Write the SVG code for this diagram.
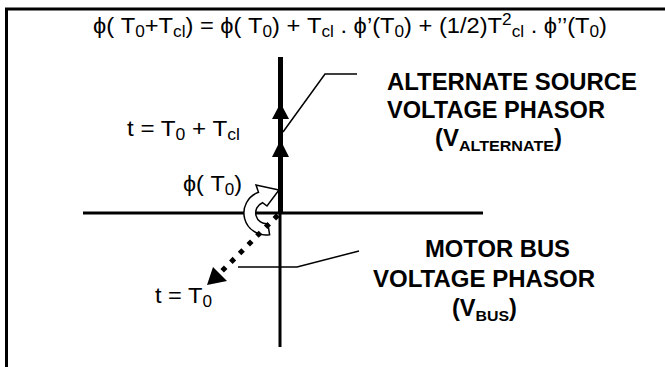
<svg xmlns="http://www.w3.org/2000/svg" width="665" height="367" viewBox="0 0 665 367">
<style>
text{font-family:"Liberation Sans","DejaVu Sans",Arial,sans-serif;fill:#000}
.reg{font-size:22px}
.lbl{font-size:22px}
.bold{font-size:23px;font-weight:bold}
.sub{font-size:16px}
.bsub{font-size:15.5px;font-weight:bold}
.thin{stroke:#000;stroke-width:1.5;fill:none}
</style>
<rect width="665" height="367" fill="#fff"/>
<g id="frame" stroke="#000" stroke-width="3" fill="none">
<path d="M6.5,367 V9 H665"/>
</g>
<g id="axes" stroke="#000" stroke-width="3">
<line x1="83" y1="213" x2="483" y2="213"/>
<line x1="280" y1="213" x2="280" y2="347"/>
</g>
<g id="alternate-phasor">
<line x1="280.5" y1="57" x2="280.5" y2="213" stroke="#000" stroke-width="5"/>
<polygon points="272,119 280.5,103 289,119" fill="#000"/>
<polygon points="272,157 280.5,140 289,157" fill="#000"/>
</g>
<g id="connectors">
<polyline class="thin" points="283,132 325,74 357,74"/>
<polyline class="thin" points="238,267 297,267 359,251"/>
</g>
<g id="rotation-arrow">
<path d="M269.6,234.7 A22,22 0 0 1 258.5,192.3 L256,185 L279,190 L267,206 L262.5,202.7 A11,11 0 0 0 267.9,223.8 Z" fill="#fff" stroke="#000" stroke-width="1.5" stroke-linejoin="miter"/>
</g>
<g id="bus-phasor">
<line x1="280" y1="213" x2="222" y2="271" stroke="#000" stroke-width="5" stroke-dasharray="5 7.3" stroke-dashoffset="-3"/>
<polygon points="207,285 213,267 227,281" fill="#000"/>
</g>
<g id="formula">
<text class="reg" x="93" y="33" textLength="514" lengthAdjust="spacingAndGlyphs">ϕ( T<tspan class="sub" dy="4">0</tspan><tspan dy="-4">+T</tspan><tspan class="sub" dy="4">cl</tspan><tspan dy="-4">) = ϕ( T</tspan><tspan class="sub" dy="4">0</tspan><tspan dy="-4">) + T</tspan><tspan class="sub" dy="4">cl</tspan><tspan dy="-4"> . ϕ’(T</tspan><tspan class="sub" dy="4">0</tspan><tspan dy="-4">) + (1/2)T</tspan><tspan class="sub" dy="-8">2</tspan><tspan class="sub" dy="12">cl</tspan><tspan dy="-4"> . ϕ’’(T</tspan><tspan class="sub" dy="4">0</tspan><tspan dy="-4">)</tspan></text>
</g>
<g id="label-time-cl">
<text class="lbl" x="127" y="136" textLength="113" lengthAdjust="spacingAndGlyphs">t = T<tspan class="sub" dy="4">0</tspan><tspan dy="-4"> + T</tspan><tspan class="sub" dy="4">cl</tspan></text>
</g>
<g id="label-angle">
<text class="lbl" x="183" y="191" textLength="59" lengthAdjust="spacingAndGlyphs">ϕ( T<tspan class="sub" dy="4">0</tspan><tspan dy="-4">)</tspan></text>
</g>
<g id="label-time-0">
<text class="lbl" x="155" y="303" textLength="57" lengthAdjust="spacingAndGlyphs">t = T<tspan class="sub" dy="4">0</tspan></text>
</g>
<g id="label-alternate">
<text class="bold" x="387" y="90" textLength="250" lengthAdjust="spacingAndGlyphs">ALTERNATE SOURCE</text>
<text class="bold" x="387" y="118" textLength="218" lengthAdjust="spacingAndGlyphs">VOLTAGE PHASOR</text>
<text class="bold" x="435" y="146" textLength="127" lengthAdjust="spacingAndGlyphs">(V<tspan class="bsub" dy="5">ALTERNATE</tspan><tspan dy="-5">)</tspan></text>
</g>
<g id="label-bus">
<text class="bold" x="425" y="257" textLength="145" lengthAdjust="spacingAndGlyphs">MOTOR BUS</text>
<text class="bold" x="373" y="287" textLength="222" lengthAdjust="spacingAndGlyphs">VOLTAGE PHASOR</text>
<text class="bold" x="452" y="316" textLength="65" lengthAdjust="spacingAndGlyphs">(V<tspan class="bsub" dy="5">BUS</tspan><tspan dy="-5">)</tspan></text>
</g>
</svg>
